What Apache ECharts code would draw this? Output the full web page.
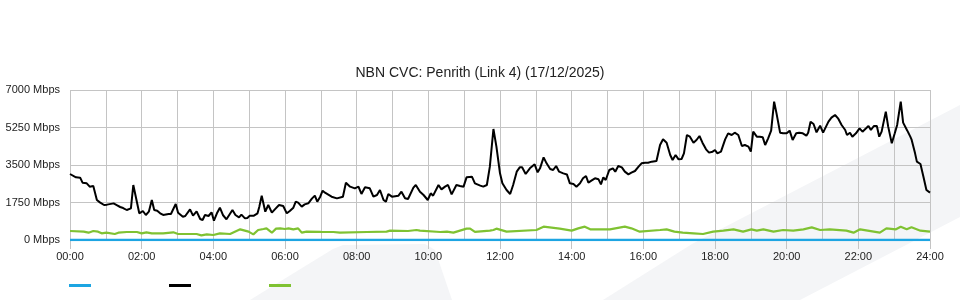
<!DOCTYPE html>
<html>
<head>
<meta charset="utf-8">
<script src="https://cdn.jsdelivr.net/npm/echarts@6/dist/echarts.min.js"></script>
<style>
html,body{margin:0;padding:0;background:#fff;}
#chart{width:960px;height:300px;}
</style>
</head>
<body>
<div id="chart"></div>
<script>
// Title and ticks
const chartTitle = 'NBN CVC: Penrith (Link 4) (17/12/2025)';
const yTicks = [0, 1750, 3500, 5250, 7000];
const xTickLabels = ['00:00','02:00','04:00','06:00','08:00','10:00','12:00','14:00','16:00','18:00','20:00','22:00','24:00'];

// Blue series (minutes since midnight, Mbps)
const blueTimes = [0, 120, 240, 360, 480, 600, 720, 840, 960, 1080, 1200, 1320, 1440];
const blueValues = [0, 0, 0, 0, 0, 0, 0, 0, 0, 0, 0, 0, 0];

// Black series
const blackTimes = [0,10,17,21,28,33,39,45,50,57,62,73,79,84,89,95,102,106,116,122,127,132,137,141,146,151,156,165,169,177,181,189,193,201,206,212,218,222,226,232,237,241,246,251,256,262,272,277,283,287,293,297,301,308,314,317,321,327,332,338,343,350,357,363,368,374,378,382,388,393,399,405,410,414,419,423,427,438,447,457,462,469,477,483,488,494,502,508,514,519,525,529,533,539,550,555,561,566,575,579,586,592,599,604,608,617,622,628,633,639,647,653,659,664,673,678,687,692,698,703,709,714,720,724,731,737,742,748,753,757,763,770,778,783,787,793,798,804,809,814,819,826,832,837,843,848,854,859,864,868,873,879,885,889,893,897,903,909,913,918,924,929,935,940,946,952,957,963,968,974,982,988,993,999,1005,1009,1014,1019,1024,1028,1033,1038,1044,1049,1054,1059,1065,1070,1076,1080,1084,1090,1097,1102,1108,1113,1119,1125,1130,1136,1140,1144,1150,1155,1160,1164,1169,1174,1179,1183,1189,1194,1200,1205,1210,1216,1221,1227,1233,1236,1240,1245,1250,1256,1261,1270,1275,1281,1286,1292,1298,1301,1306,1310,1316,1322,1327,1333,1337,1341,1346,1351,1355,1359,1366,1370,1376,1381,1385,1391,1395,1402,1407,1409,1415,1418,1424,1429,1434,1440];
const blackValues = [3080,2925,2910,2675,2645,2490,2520,1867,1757,1633,1650,1710,1617,1540,1493,1400,1478,2567,1245,1353,1167,1322,1867,1400,1369,1245,1167,1213,1213,1680,1276,1089,1120,1431,1136,1338,980,933,1167,1120,1291,902,1245,1509,1167,965,1400,1167,1058,1182,1011,1027,1136,1136,1245,1556,2069,1322,1633,1276,1431,1633,1587,1245,1353,1509,1789,1742,1556,1664,1711,1929,2069,1789,2022,2300,2209,2022,1944,2022,2675,2489,2411,2489,2147,2458,2411,2022,2100,2333,1867,1789,2147,2022,2069,2256,1944,1911,2442,2567,2256,2100,1867,2178,2069,2567,2364,2489,2567,2131,2567,2520,2489,2925,2956,2645,2536,2489,2567,3422,5180,4356,3111,2645,2333,2147,2567,3189,3391,3391,3080,3344,3531,3158,3344,3858,3578,3313,3267,3453,3189,3111,3060,2645,2613,2489,2650,2878,2987,2675,2769,2878,2831,2598,2925,2800,3267,3344,3189,3453,3391,3189,3064,3142,3220,3422,3578,3609,3609,3656,3687,4433,4698,4542,3967,3733,3967,3764,3780,4044,4900,4822,4542,4667,4853,4542,4231,4076,4122,4200,4044,4122,4698,4978,4900,5009,4900,4387,4433,4356,4122,5056,4822,4822,4791,4433,4744,5102,6456,5911,5009,4978,4978,5102,4667,4978,5009,4978,4869,5009,5522,5413,5024,5336,5009,5522,5709,5833,5678,5367,5133,4900,5009,4822,4978,5211,5056,5211,5320,5133,5320,5320,4822,5056,5989,5289,4511,4978,5367,6456,5476,5102,4822,4698,4044,3656,3547,2956,2333,2209];

// Green series
const greenTimes = [0,23,31,39,47,53,61,75,81,95,112,120,128,137,156,173,181,212,220,229,240,251,268,285,299,307,315,324,329,338,345,352,360,366,374,382,388,396,420,441,452,497,530,536,566,580,586,620,631,642,653,664,670,678,703,709,714,731,781,793,820,840,851,862,871,904,929,940,954,988,999,1012,1026,1044,1060,1077,1094,1111,1127,1141,1150,1161,1178,1194,1211,1228,1242,1256,1272,1300,1312,1323,1356,1367,1383,1391,1401,1409,1424,1440];
const greenValues = [420,389,342,420,389,311,342,280,342,373,373,311,358,311,311,358,280,280,218,264,233,311,280,498,389,264,467,513,544,342,529,544,513,544,498,544,342,389,380,373,342,373,389,436,420,467,436,373,389,342,436,529,529,380,436,467,529,389,467,620,529,436,544,622,498,498,622,544,389,467,498,389,342,311,280,389,436,498,389,498,436,498,389,467,436,498,591,467,498,436,342,498,342,544,498,622,498,591,436,389];

function pairs(t, v) { return t.map((x, i) => [x, v[i]]); }

const blueColor = '#1da5e2';
const blackColor = '#000000';
const greenColor = '#7fc232';
const gridColor = '#c4c4c4';

const chart = echarts.init(document.getElementById('chart'), null, {renderer: 'canvas'});

function legendFor(name, left) {
  return {
    data: [name], left: left, top: 284, padding: 0, itemGap: 0,
    itemWidth: 22, itemHeight: 3, icon: 'rect',
    formatter: function () { return ''; },
    textStyle: {fontSize: 8, padding: 0},
    selectedMode: false
  };
}

chart.setOption({
  animation: false,
  backgroundColor: '#ffffff',
  title: {
    text: chartTitle, left: 'center', top: 61,
    textStyle: {fontFamily: 'Liberation Sans, Arial, sans-serif', fontSize: 14, fontWeight: 'normal', color: '#222'}
  },
  graphic: {
    elements: [
      {type: 'polygon', z: -10, silent: true,
       shape: {points: [[250,300],[333,249],[343,245],[425,244],[435,250],[452,300]]},
       style: {fill: '#f4f5f7'}},
      {type: 'polygon', z: -10, silent: true,
       shape: {points: [[603,300],[692,244],[960,105],[960,217],[800,300]]},
       style: {fill: '#f4f5f7'}}
    ]
  },
  legend: [legendFor('s1', 69), legendFor('s2', 169), legendFor('s3', 269)],
  grid: {left: 70, right: 30, top: 90, height: 150, containLabel: false},
  xAxis: {
    type: 'value', min: 0, max: 1440, interval: 120,
    axisLine: {show: false},
    axisTick: {show: true, length: 9, lineStyle: {color: gridColor}},
    axisLabel: {
      margin: 11, color: '#222', fontSize: 11, fontFamily: 'Liberation Sans, Arial, sans-serif',
      formatter: function (v) { return xTickLabels[Math.round(v / 120)]; }
    },
    splitLine: {show: true, lineStyle: {color: gridColor, width: 1}},
    minorTick: {show: false, splitNumber: 2},
    minorSplitLine: {show: true, lineStyle: {color: gridColor, width: 1}}
  },
  yAxis: {
    type: 'value', min: yTicks[0], max: yTicks[yTicks.length - 1], interval: yTicks[1] - yTicks[0],
    axisLine: {show: false},
    axisTick: {show: false},
    axisLabel: {
      margin: 10, color: '#222', fontSize: 11, fontFamily: 'Liberation Sans, Arial, sans-serif',
      formatter: function (v) { return v + ' Mbps'; }
    },
    splitLine: {show: true, lineStyle: {color: gridColor, width: 1}}
  },
  series: [
    {name: 's1', type: 'line', data: pairs(blueTimes, blueValues), showSymbol: false, z: 5,
     color: blueColor, lineStyle: {color: blueColor, width: 2.5}},
    {name: 's2', type: 'line', data: pairs(blackTimes, blackValues), showSymbol: false, z: 4,
     color: blackColor, lineStyle: {color: blackColor, width: 2}},
    {name: 's3', type: 'line', data: pairs(greenTimes, greenValues), showSymbol: false, z: 3,
     color: greenColor, lineStyle: {color: greenColor, width: 2.2}}
  ]
});
</script>
</body>
</html>
